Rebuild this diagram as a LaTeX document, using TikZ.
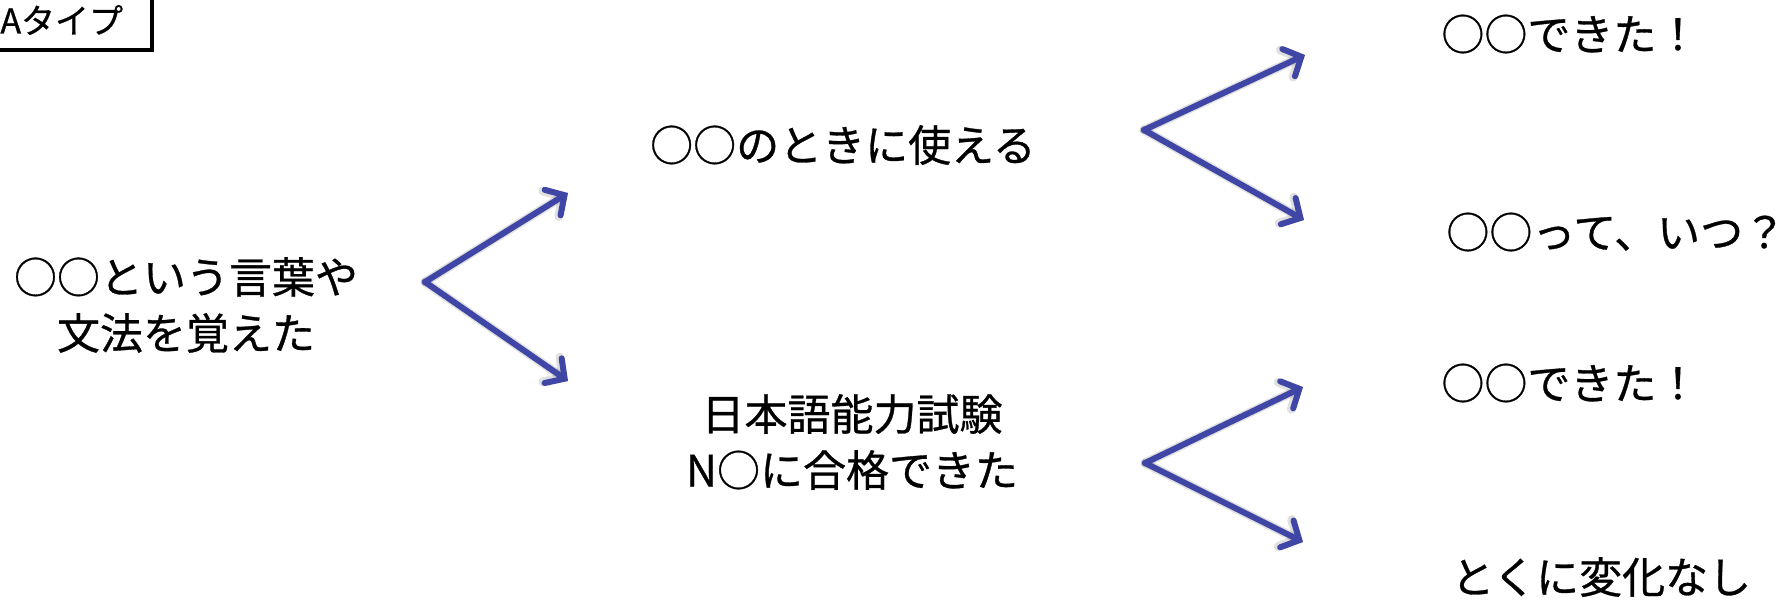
\documentclass[tikz,border=0pt]{standalone}
\usepackage{fontspec}
\setmainfont{Noto Sans CJK JP}[FakeBold=0.7]
\usetikzlibrary{arrows.meta}
\definecolor{arrblue}{HTML}{4046A6}
\tikzset{
  lbl/.style={inner sep=0pt, font=\fontsize{21.5pt}{28pt}\selectfont, align=center},
  branch/.style={draw=arrblue, line width=3pt, line cap=round, line join=round,
    -{Straight Barb[length=7pt,width=15pt,line cap=round]}},
  shade/.style={draw=black, opacity=0.12, line width=4.5pt, line cap=round,
    -{Straight Barb[length=7pt,width=15pt,line cap=round]}},
  typebox/.style={draw=black, line width=1.6pt}
}
\begin{document}
\begin{tikzpicture}[x=0.5pt,y=-0.5pt]
\useasboundingbox (0,0) rectangle (1791,600);
\fill[white] (0,0) rectangle (1791,600);
% type box
\draw[typebox] (-10,-10) rectangle (152,50);
\node[inner sep=0pt, font=\fontsize{17pt}{20pt}\selectfont, anchor=west] (type) at (0,20) {Aタイプ};
% texts
\node[lbl] (start) at (186,305) {○○という言葉や\\文法を覚えた};
\node[lbl] (use) at (843,145) {○○のときに使える};
\node[lbl] (jlpt) at (852,442) {日本語能力試験\\N○に合格できた};
\node[lbl, anchor=west] (r1) at (1441,34) {○○できた！};
\node[lbl, anchor=west] (r2) at (1446,232) {○○って、いつ？};
\node[lbl, anchor=west] (r3) at (1441,383) {○○できた！};
\node[lbl, anchor=west] (r4) at (1451,577) {とくに変化なし};
% arrow coordinates
\coordinate (v1) at (425,282);
\coordinate (t1a) at (568,193);
\coordinate (t1b) at (568,381);
\coordinate (v2) at (1144,130);
\coordinate (t2a) at (1305,55);
\coordinate (t2b) at (1304,220);
\coordinate (v3) at (1145,463);
\coordinate (t3a) at (1303,387);
\coordinate (t3b) at (1303,542);
\begin{scope}[shift={(2,3)}]
\draw[shade] (v1) -- (t1a);
\draw[shade] (v1) -- (t1b);
\draw[shade] (v2) -- (t2a);
\draw[shade] (v2) -- (t2b);
\draw[shade] (v3) -- (t3a);
\draw[shade] (v3) -- (t3b);
\end{scope}
\draw[branch] (v1) -- (t1a);
\draw[branch] (v1) -- (t1b);
\draw[branch] (v2) -- (t2a);
\draw[branch] (v2) -- (t2b);
\draw[branch] (v3) -- (t3a);
\draw[branch] (v3) -- (t3b);
\end{tikzpicture}
\end{document}
